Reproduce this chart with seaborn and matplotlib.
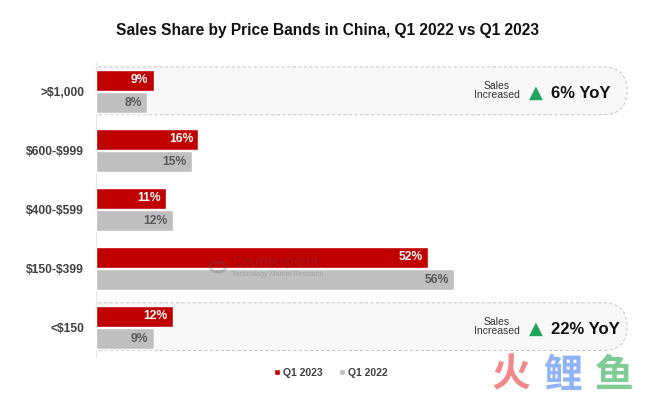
import matplotlib
matplotlib.use("Agg")
import matplotlib.pyplot as plt
from matplotlib.patches import FancyBboxPatch, Circle
import seaborn as sns
import pandas as pd

# --- data ---
bands = [">$1,000", "$600-$999", "$400-$599", "$150-$399", "<$150"]
share_2023 = [9, 16, 11, 52, 12]
share_2022 = [8, 15, 12, 56, 9]
periods = ["Q1 2023", "Q1 2022"]
growth_bands = [">$1,000", "<$150"]
growth_yoy = [6, 22]

RED = "#C00000"
GRAY = "#BFBFBF"
GREEN = "#1FA55E"

df = pd.DataFrame({
    "band": bands * 2,
    "period": [periods[0]] * len(bands) + [periods[1]] * len(bands),
    "share": share_2023 + share_2022,
})

sns.set_theme(style="white")
plt.rcParams["font.family"] = ["Liberation Sans", "DejaVu Sans"]

W, H = 660, 399
fig = plt.figure(figsize=(W / 100, H / 100), dpi=100)


def px(x, y):
    # pixel position of the reference -> figure fraction
    return x / W, 1 - y / H


ax_left, ax_right, ax_top, ax_bot = 96, 640, 62.2, 357
ax = fig.add_axes([ax_left / W, 1 - ax_bot / H, (ax_right - ax_left) / W, (ax_bot - ax_top) / H])

sns.barplot(data=df, y="band", x="share", hue="period", hue_order=periods,
            palette=[RED, GRAY], saturation=1, orient="h", width=0.76, gap=0.07,
            ax=ax, zorder=3)

ax.set_xlim(0, (ax_right - ax_left) / 6.39)
ax.set_ylim(len(bands) - 0.5, -0.5)
ax.set_xlabel("")
ax.set_ylabel("")
ax.set_xticks([])
ax.set_yticks(range(len(bands)))
ax.set_yticklabels([b.replace("$", r"\$") for b in bands], fontsize=8.7,
                   fontweight="bold", color="#404040")
ax.tick_params(axis="y", length=0, pad=8.6)
for s in ["top", "right", "bottom"]:
    ax.spines[s].set_visible(False)
ax.spines["left"].set_color("#E6E6E6")
ax.spines["left"].set_linewidth(0.8)

# value labels inside the bar ends
for cont, col in zip(ax.containers, ["white", "#595959"]):
    for p in cont:
        w = p.get_width()
        ax.text(w - 0.8, p.get_y() + p.get_height() / 2, f"{w:.0f}%", ha="right",
                va="center", fontsize=8.7, fontweight="bold", color=col, zorder=4)

# rounded dashed "pill" panels behind the bands that grew
fig.canvas.draw()
x_ppu = ax.transData.transform((1, 0))[0] - ax.transData.transform((0, 0))[0]
y_ppu = abs(ax.transData.transform((0, 1))[1] - ax.transData.transform((0, 0))[1])
y0, y1 = -0.42, 0.39
radius_px = (y1 - y0) * y_ppu / 2
for band in growth_bands:
    yc = bands.index(band)
    box = FancyBboxPatch((-6, yc + y0), 6 + (627 - ax_left) / x_ppu, y1 - y0,
                         boxstyle=f"round,pad=0,rounding_size={radius_px / x_ppu}",
                         mutation_aspect=x_ppu / y_ppu, fc="#F8F8F8", ec="#CCCCCC",
                         ls=(0, (3, 2)), lw=0.8, zorder=1, transform=ax.transData)
    ax.add_patch(box)

for band, g in zip(growth_bands, growth_yoy):
    yc = ax.transData.transform((0, bands.index(band)))[1]
    ymid = H - yc  # pixel row in reference coords
    fig.text(*px(497, ymid - 6), "Sales", ha="center", va="center", fontsize=7.5, color="#333333")
    fig.text(*px(497, ymid + 3.5), "Increased", ha="center", va="center", fontsize=7.5, color="#333333")
    fig.text(*px(536, ymid + 1), "▲", ha="center", va="center", fontsize=13, color=GREEN,
             family="DejaVu Sans")
    fig.text(*px(551, ymid + 1.5), f"{g}% YoY", ha="left", va="center", fontsize=12,
             fontweight="bold", color="#111111")

# title
fig.text(*px(327, 30), "Sales Share by Price Bands in China, Q1 2022 vs Q1 2023",
         ha="center", va="center", fontsize=11.2, fontweight="bold", color="#111111")

# legend
handles, labels = ax.get_legend_handles_labels()
leg = ax.legend(handles, labels, loc="center", bbox_to_anchor=px(331, 373),
                bbox_transform=fig.transFigure, ncol=2, frameon=False,
                handlelength=0.55, handleheight=0.55, handletextpad=0.3,
                columnspacing=1.6, prop={"size": 7.5, "weight": "bold"})
for t in leg.get_texts():
    t.set_color("#404040")

# faint watermarks
fig.add_artist(Circle(px(218, 267), 8 / W, transform=fig.transFigure, fill=False,
                      ec="#555555", lw=2.2, alpha=0.25, zorder=5))
fig.text(*px(232, 262), "Counterpoint", ha="left", va="center", fontsize=10,
         fontweight="bold", color="#555555", alpha=0.22, zorder=5)
fig.text(*px(232, 274), "Technology Market Research", ha="left", va="center",
         fontsize=5, color="#555555", alpha=0.25, zorder=5)
for ch, xc, col in zip("火鲤鱼", [511, 563, 614], ["#F4878A", "#8FB3F5", "#7FCB95"]):
    fig.text(*px(xc, 375), ch, ha="center", va="center", fontsize=28, fontweight="bold",
             color=col, family=["Noto Sans CJK SC", "DejaVu Sans"])

fig.savefig("out.png", dpi=100)
